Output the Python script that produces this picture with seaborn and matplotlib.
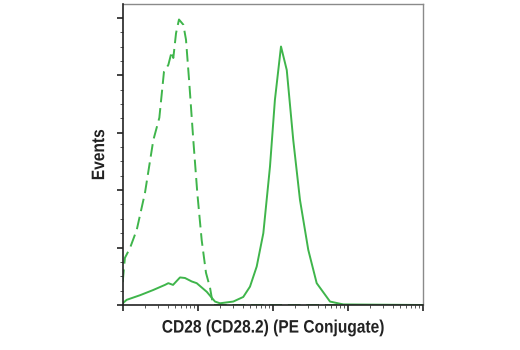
import matplotlib
matplotlib.use("Agg")
import matplotlib.pyplot as plt
from matplotlib.ticker import MultipleLocator, LogLocator, NullFormatter
from matplotlib.patheffects import AbstractPathEffect
from matplotlib.transforms import Affine2D
import seaborn as sns
import pandas as pd

# CD28 (PE) stained sample
stained_x = [1.0, 1.13, 1.70, 2.54, 3.66, 4.06, 4.69, 5.81, 6.77, 8.32, 9.70,
             13.2, 17.0, 19.8, 29.8, 40.5, 49.8, 61.2, 75.0, 92.0, 107, 129,
             154, 188, 231, 298, 386, 581, 874, 10000]
stained_y = [0.03, 0.09, 0.17, 0.26, 0.35, 0.38, 0.35, 0.48, 0.47, 0.41, 0.38,
             0.23, 0.06, 0.03, 0.06, 0.14, 0.32, 0.67, 1.25, 2.41, 3.57, 4.50,
             4.09, 2.87, 1.83, 0.96, 0.38, 0.06, 0.01, 0.0]

# isotype control
isotype_x = [1.0, 1.07, 1.25, 1.54, 1.98, 2.56, 3.08, 3.55, 4.06, 4.50, 4.73,
             5.14, 5.63, 6.43, 6.98, 7.73, 8.74, 9.88, 11.3, 12.9, 14.6, 16.0,
             10000]
isotype_y = [0.40, 0.82, 0.99, 1.31, 1.95, 2.87, 3.26, 4.06, 4.18, 4.41, 4.30,
             4.73, 4.97, 4.88, 4.62, 3.86, 2.87, 1.95, 1.13, 0.56, 0.30, 0.0,
             0.0]

x_label = "CD28 (CD28.2) (PE Conjugate)"
y_label = "Events"

green = "#3fb54b"
ink = "#222222"


class Condensed(AbstractPathEffect):
    """Squeeze glyphs along the reading direction about a fixed display point."""

    def __init__(self, center, factor, vertical=False):
        super().__init__()
        self.center = center
        self.factor = factor
        self.vertical = vertical

    def draw_path(self, renderer, gc, tpath, affine, rgbFace=None):
        c = self.center
        if self.vertical:
            squeeze = Affine2D().translate(0, -c).scale(1, self.factor).translate(0, c)
        else:
            squeeze = Affine2D().translate(-c, 0).scale(self.factor, 1).translate(c, 0)
        renderer.draw_path(gc, tpath, affine + squeeze, rgbFace)


sns.set_style("white")
plt.rcParams["font.family"] = ["Liberation Sans", "DejaVu Sans"]

W, H = 520, 350
fig = plt.figure(figsize=(W / 100, H / 100), dpi=100)
left_px, right_px, top_px, bottom_px = 122.7, 422.7, 4, 305
ax = fig.add_axes([left_px / W, 1 - bottom_px / H,
                   (right_px - left_px) / W, (bottom_px - top_px) / H])

df_s = pd.DataFrame({"x": stained_x, "y": stained_y})
df_i = pd.DataFrame({"x": isotype_x, "y": isotype_y})

sns.lineplot(data=df_i, x="x", y="y", ax=ax, color=green, lw=1.4,
             sort=False, estimator=None)
ax.lines[-1].set_dashes([6.5, 3])
sns.lineplot(data=df_s, x="x", y="y", ax=ax, color=green, lw=1.4,
             sort=False, estimator=None)

ax.set_xscale("log")
ax.set_xlim(1, 10000)
ax.set_ylim(0, 5.24)

ax.yaxis.set_major_locator(MultipleLocator(1))
ax.yaxis.set_minor_locator(MultipleLocator(0.25))
ax.xaxis.set_major_locator(LogLocator(base=10))
ax.xaxis.set_minor_locator(LogLocator(base=10, subs=range(2, 10)))
for axis in (ax.xaxis, ax.yaxis):
    axis.set_major_formatter(NullFormatter())
    axis.set_minor_formatter(NullFormatter())

ax.tick_params(which="major", direction="out", length=4, width=1.2,
               color=ink, left=True, bottom=True)
ax.tick_params(which="minor", direction="out", length=2.5, width=0.7,
               color="#555555", left=True, bottom=True)

for side in ("left", "bottom"):
    ax.spines[side].set_color(ink)
    ax.spines[side].set_linewidth(1.2)
    ax.spines[side].set_zorder(5)
for side in ("top", "right"):
    ax.spines[side].set_color("#8a8a8a")
    ax.spines[side].set_linewidth(1.0)

xl = ax.set_xlabel(x_label, fontsize=13, fontweight="bold", color=ink, labelpad=3)
yl = ax.set_ylabel(y_label, fontsize=13, fontweight="bold", color=ink, labelpad=3)
xl.set_path_effects([Condensed((left_px + right_px) / 2, 0.86)])
yl.set_path_effects([Condensed(H - (top_px + bottom_px) / 2 - 2, 0.86, vertical=True)])

fig.savefig("out.png", dpi=100)
